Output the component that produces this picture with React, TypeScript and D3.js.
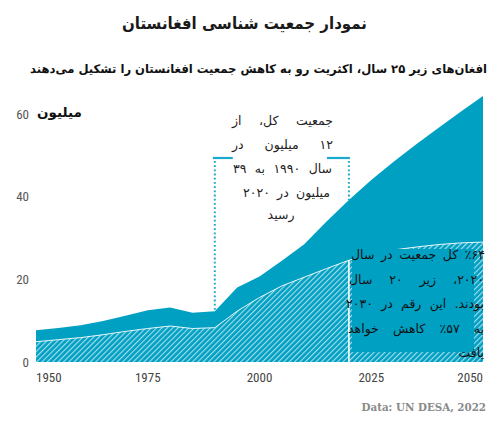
import React, { useLayoutEffect, useRef, useState } from "react";
import * as d3 from "d3";

// ---------- data ----------
const years = [1950, 1955, 1960, 1965, 1970, 1975, 1980, 1985, 1990, 1995, 2000, 2005, 2010, 2015, 2020, 2025, 2030, 2035, 2040, 2045, 2050];
const totalPop = [7.7, 8.2, 8.9, 9.9, 11.2, 12.5, 13.2, 11.9, 12.3, 18.0, 20.7, 24.5, 28.5, 34.0, 39.2, 44.0, 48.4, 52.6, 56.6, 60.5, 64.3];
const youngPop = [4.9, 5.4, 5.9, 6.6, 7.4, 8.1, 8.7, 8.1, 8.3, 12.3, 15.6, 18.4, 20.5, 22.6, 24.6, 26.0, 27.1, 27.8, 28.4, 28.8, 29.0];
const yTicks = [0, 20, 40, 60];
const xTicks = [1950, 1975, 2000, 2025, 2050];
const markYears = [1990, 2020];

const titleText = "نمودار جمعیت شناسی افغانستان";
const subtitleText = "افغان‌های زیر ۲۵ سال، اکثریت رو به کاهش جمعیت افغانستان را تشکیل می‌دهند";
const unitLabel = "میلیون";
const sourceText = "Data: UN DESA, 2022";

// words in reading (logical) order, one array per printed line
const note1Words = [
  ["جمعیت", "کل،", "از"],
  ["۱۲", "میلیون", "در"],
  ["سال", "۱۹۹۰", "به", "۳۹"],
  ["میلیون", "در", "۲۰۲۰"],
  ["رسید"],
];
const note2Words = [
  ["٪۶۴", "کل", "جمعیت", "در", "سال"],
  ["۲۰۲۰،", "زیر", "۲۰", "سال"],
  ["بودند.", "این", "رقم", "در", "۲۰۳۰"],
  ["به", "٪۵۷", "کاهش", "خواهد"],
  ["یافت"],
];

// ---------- layout ----------
const W = 500;
const H = 422;
const M = { left: 36, right: 483, top: 113.9, bottom: 362 };
const TEAL = "#00A0C3";
const DOT = "#1DA9CD";
const ARABIC = "'DejaVu Sans', 'Noto Sans', sans-serif";
const NUMFONT = "'Liberation Sans Narrow', 'Roboto Condensed', 'Roboto', sans-serif";

type LineLayout = { y: number; left: number; right: number; align: "justify" | "center" | "right" };

const note1Layout: LineLayout[] = [
  { y: 125, left: 232, right: 333, align: "justify" },
  { y: 149, left: 232, right: 333, align: "justify" },
  { y: 173, left: 233, right: 332, align: "justify" },
  { y: 197, left: 243, right: 330, align: "justify" },
  { y: 219, left: 262, right: 300, align: "center" },
];
const note2Layout: LineLayout[] = [
  { y: 259, left: 351, right: 485, align: "justify" },
  { y: 284, left: 349, right: 484, align: "justify" },
  { y: 308, left: 346, right: 484, align: "justify" },
  { y: 333, left: 348, right: 484, align: "justify" },
  { y: 357, left: 440, right: 484, align: "right" },
];

// lays out right-to-left words: first word at the right edge
function WordBlock({ words, layout, size, color }: { words: string[][]; layout: LineLayout[]; size: number; color: string }) {
  const refs = useRef<(SVGTextElement | null)[][]>(words.map((r) => r.map(() => null)));
  const [widths, setWidths] = useState<number[][] | null>(null);
  useLayoutEffect(() => {
    setWidths(refs.current.map((row) => row.map((el) => (el ? el.getComputedTextLength() : 0))));
  }, []);
  return (
    <g>
      {words.map((row, i) => {
        const L = layout[i];
        const ws = widths ? widths[i] : row.map(() => 0);
        const total = ws.reduce((a, b) => a + b, 0);
        let gap = 4;
        let start = L.right;
        if (L.align === "justify" && row.length > 1) {
          gap = (L.right - L.left - total) / (row.length - 1);
        } else if (L.align === "center") {
          start = (L.left + L.right) / 2 + (total + gap * (row.length - 1)) / 2;
        }
        let xr = start;
        const cx = ws.map((w) => {
          const c = xr - w / 2;
          xr -= w + gap;
          return c;
        });
        return row.map((w, j) => (
          <text
            key={i + "-" + j}
            ref={(el) => {
              refs.current[i][j] = el;
            }}
            x={cx[j]}
            y={L.y}
            direction="rtl"
            fontFamily={ARABIC}
            fontSize={size}
            fill={color}
            textAnchor="middle"
          >
            {w}
          </text>
        ));
      })}
    </g>
  );
}

export default function App() {
  const x = d3.scaleLinear().domain([1950, 2050]).range([M.left, M.right]);
  const y = d3.scaleLinear().domain([0, 60]).range([M.bottom, M.top]);

  const idx = d3.range(years.length);
  const totalArea = d3
    .area<number>()
    .x((i) => x(years[i]))
    .y0(y(0))
    .y1((i) => y(totalPop[i]));
  const youngArea = d3
    .area<number>()
    .x((i) => x(years[i]))
    .y0(y(0))
    .y1((i) => y(youngPop[i]));
  const youngLine = d3
    .line<number>()
    .x((i) => x(years[i]))
    .y((i) => y(youngPop[i]));

  const valAt = (arr: number[], yr: number) => arr[years.indexOf(yr)];
  const lineTop = 158;

  return (
    <div style={{ position: "absolute", left: 0, top: 0, width: W, height: H, background: "#fff" }}>
      <svg width={W} height={H} viewBox={`0 0 ${W} ${H}`} style={{ display: "block" }}>
        <defs>
          <pattern id="hatch" patternUnits="userSpaceOnUse" width={3.8} height={3.8} patternTransform="rotate(45)">
            <rect width={3.8} height={3.8} fill={TEAL} />
            <line x1={0.6} y1={0} x2={0.6} y2={3.8} stroke="#ffffff" strokeOpacity={0.7} strokeWidth={1.05} />
          </pattern>
        </defs>

        {/* title */}
        <text
          x={244.5}
          y={29}
          textAnchor="middle"
          direction="rtl"
          fontFamily={ARABIC}
          fontSize={16.5}
          fontWeight="bold"
          fill="#1a1a1a"
          textLength={245}
          lengthAdjust="spacingAndGlyphs"
        >
          {titleText}
        </text>
        <text
          x={258.5}
          y={73}
          textAnchor="middle"
          direction="rtl"
          fontFamily={ARABIC}
          fontSize={12}
          fontWeight="bold"
          fill="#111"
          textLength={457}
          lengthAdjust="spacingAndGlyphs"
        >
          {subtitleText}
        </text>

        {/* areas */}
        <path d={totalArea(idx) || ""} fill={TEAL} />
        <path d={youngArea(idx) || ""} fill="url(#hatch)" />
        <path d={youngLine(idx) || ""} fill="none" stroke="#ffffff" strokeWidth={1} strokeOpacity={0.9} />

        {/* annotation 2 box */}
        <rect x={352} y={249} width={122} height={103} fill={TEAL} />
        <line x1={x(2020)} x2={x(2020)} y1={y(valAt(youngPop, 2020))} y2={y(0)} stroke="#fff" strokeWidth={1.6} />

        {/* marker lines */}
        {markYears.map((yr, k) => (
          <g key={yr}>
            <line
              x1={x(yr)}
              x2={x(yr)}
              y1={lineTop + 3}
              y2={y(valAt(totalPop, yr))}
              stroke={DOT}
              strokeWidth={2}
              strokeDasharray="1.8 2.4"
            />
            <line
              x1={k === 0 ? x(yr) - 2 : x(yr) - 22}
              x2={k === 0 ? x(yr) + 18 : x(yr) + 1}
              y1={lineTop}
              y2={lineTop}
              stroke={DOT}
              strokeWidth={2.2}
            />
          </g>
        ))}

        {/* y axis labels */}
        {yTicks.map((t) => (
          <text key={t} x={29} y={y(t)} dy="0.36em" textAnchor="end" fontFamily={NUMFONT} fontSize={13} fill="#555">
            {t}
          </text>
        ))}
        <text x={37} y={117} fontFamily={ARABIC} fontSize={13.5} fontWeight="bold" fill="#111">
          {unitLabel}
        </text>

        {/* x axis labels */}
        {xTicks.map((t, i) => (
          <text
            key={t}
            x={x(t)}
            y={382}
            textAnchor={i === 0 ? "start" : i === xTicks.length - 1 ? "end" : "middle"}
            fontFamily={NUMFONT}
            fontSize={13}
            fill="#444"
          >
            {t}
          </text>
        ))}

        {/* annotations */}
        <WordBlock words={note1Words} layout={note1Layout} size={12.5} color="#222" />
        <WordBlock words={note2Words} layout={note2Layout} size={12.5} color="#111" />

        {/* source */}
        <text x={486} y={411} textAnchor="end" fontFamily="'DejaVu Serif', serif" fontSize={10.3} fontWeight="bold" fill="#8a8a8a">
          {sourceText}
        </text>
      </svg>
    </div>
  );
}
